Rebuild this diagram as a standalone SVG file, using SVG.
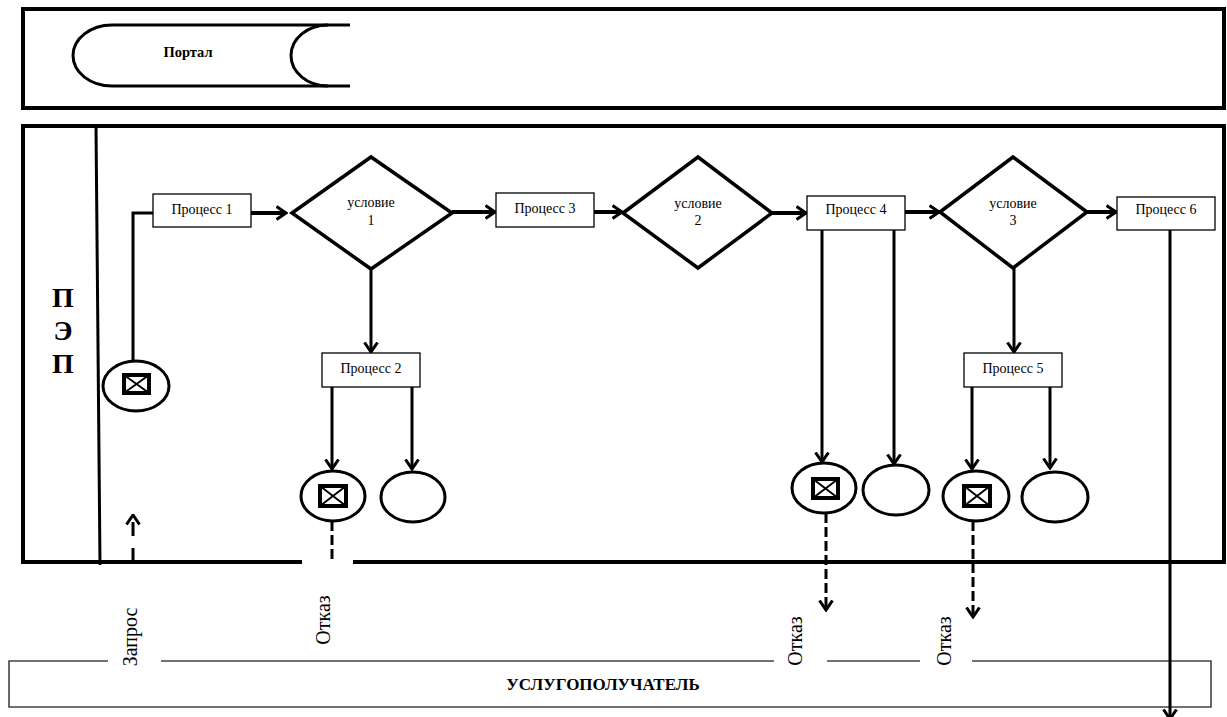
<svg xmlns="http://www.w3.org/2000/svg" width="1227" height="717" viewBox="0 0 1227 717">
<style>
.frame{fill:none;stroke:#000;stroke-width:4}
.box{fill:#fff;stroke:#000;stroke-width:1.3}
.dia{fill:#fff;stroke:#000;stroke-width:3.5;stroke-linejoin:miter}
.ell{fill:#fff;stroke:#000;stroke-width:3}
.sym{fill:#fff;stroke:#000;stroke-width:4}
.symx{stroke:#000;stroke-width:2}
.ln{fill:none;stroke:#000;stroke-width:3}
.lnh{fill:none;stroke:#000;stroke-width:4}
.dash{fill:none;stroke:#000;stroke-width:3;stroke-dasharray:10 4}
.thin{fill:none;stroke:#444;stroke-width:1.6}
.t{font-family:"Liberation Serif","Times New Roman",serif;font-size:14px;fill:#000;text-anchor:middle}
.tb{font-family:"Liberation Serif","Times New Roman",serif;font-weight:bold;fill:#000;text-anchor:middle}
.tr{font-family:"Liberation Serif","Times New Roman",serif;font-size:20px;fill:#000;text-anchor:middle}
</style>
<defs>
<marker id="arr" markerUnits="userSpaceOnUse" viewBox="0 0 12 16" markerWidth="12" markerHeight="16" refX="10.5" refY="8" orient="auto">
<path d="M1,1.5 L10.5,8 L1,14.5" fill="none" stroke="#000" stroke-width="3"/>
</marker>
</defs>

<g id="lane-portal">
<rect class="frame" x="23" y="9" width="1201" height="99"/>
</g>
<g id="portal">
<path class="ln" d="M350,25 L112,25 A39,30.5 0 0 0 112,86 L350,86"/>
<path class="ln" d="M328,25 A37,30.5 0 0 0 328,86"/>
<text class="tb" x="188" y="57" font-size="14.5">Портал</text>
</g>

<g id="lane-pep">
<path class="frame" d="M302,562 L23,562 L23,126 L1224,126 L1224,562 L353,562"/>
<line x1="96" y1="126" x2="100" y2="565" stroke="#000" stroke-width="3"/>
<text class="tb" font-size="28" x="63" y="307">П</text>
<text class="tb" font-size="28" x="63" y="340">Э</text>
<text class="tb" font-size="28" x="63" y="373">П</text>
</g>

<g id="lane-recipient">
<path class="thin" d="M108,661 L9,661 L9,707 L1211,707 L1211,661 L972,661 M920,661 L827,661 M774,661 L161,661"/>
<text class="tb" font-size="17" x="603" y="690">УСЛУГОПОЛУЧАТЕЛЬ</text>
</g>

<g id="connectors">
<path class="ln" d="M133,361 V213 H153"/>
<line class="lnh" x1="251" y1="213" x2="286" y2="213" marker-end="url(#arr)"/>
<line class="lnh" x1="452" y1="212" x2="495" y2="212" marker-end="url(#arr)"/>
<line class="lnh" x1="594" y1="212" x2="622" y2="212" marker-end="url(#arr)"/>
<line class="lnh" x1="772" y1="213" x2="806" y2="213" marker-end="url(#arr)"/>
<line class="lnh" x1="905" y1="212" x2="939" y2="212" marker-end="url(#arr)"/>
<line class="lnh" x1="1087" y1="212" x2="1116" y2="212" marker-end="url(#arr)"/>
<line class="ln" x1="371" y1="269" x2="371" y2="352" marker-end="url(#arr)"/>
<line class="ln" x1="1014" y1="268" x2="1014" y2="352" marker-end="url(#arr)"/>
<line class="ln" x1="332" y1="387" x2="332" y2="469" marker-end="url(#arr)"/>
<line class="ln" x1="412" y1="387" x2="412" y2="469" marker-end="url(#arr)"/>
<line class="ln" x1="822" y1="230" x2="822" y2="462" marker-end="url(#arr)"/>
<line class="ln" x1="894" y1="230" x2="894" y2="464" marker-end="url(#arr)"/>
<line class="ln" x1="972" y1="387" x2="972" y2="469" marker-end="url(#arr)"/>
<line class="ln" x1="1050" y1="387" x2="1050" y2="468" marker-end="url(#arr)"/>
<line class="ln" x1="1170" y1="230" x2="1170" y2="719" marker-end="url(#arr)"/>
<line class="dash" x1="332" y1="521" x2="332" y2="562"/>
<line class="dash" x1="826" y1="513" x2="826" y2="610" marker-end="url(#arr)"/>
<line class="dash" x1="973" y1="521" x2="973" y2="617" marker-end="url(#arr)"/>
<line class="ln" x1="133" y1="562" x2="133" y2="515" stroke-dasharray="14 12" marker-end="url(#arr)"/>
</g>

<g id="start">
<ellipse class="ell" cx="136" cy="386" rx="33" ry="25"/>
<rect class="sym" x="124" y="375" width="25" height="18"/>
<path class="symx" d="M124,375 L149,393 M149,375 L124,393"/>
</g>

<g id="proc1"><rect class="box" x="153" y="194" width="98" height="33"/><text class="t" x="202" y="214">Процесс 1</text></g>
<g id="cond1"><polygon class="dia" points="292,213 371,157 452,213 371,269"/><text class="t" x="371" y="207">условие</text><text class="t" x="371" y="225">1</text></g>
<g id="proc2"><rect class="box" x="322" y="353" width="98" height="34"/><text class="t" x="371" y="373">Процесс 2</text></g>
<g id="proc3"><rect class="box" x="496" y="193" width="98" height="34"/><text class="t" x="545" y="213">Процесс 3</text></g>
<g id="cond2"><polygon class="dia" points="623,213 698,157 772,213 698,268"/><text class="t" x="698" y="208">условие</text><text class="t" x="698" y="225">2</text></g>
<g id="proc4"><rect class="box" x="807" y="196" width="98" height="34"/><text class="t" x="856" y="214">Процесс 4</text></g>
<g id="cond3"><polygon class="dia" points="940,212 1013,157 1087,212 1013,268"/><text class="t" x="1013" y="208">условие</text><text class="t" x="1013" y="225">3</text></g>
<g id="proc5"><rect class="box" x="964" y="353" width="98" height="34"/><text class="t" x="1013" y="373">Процесс 5</text></g>
<g id="proc6"><rect class="box" x="1117" y="197" width="98" height="33"/><text class="t" x="1166" y="214">Процесс 6</text></g>

<g id="reject2">
<ellipse class="ell" cx="333" cy="496" rx="32" ry="25"/>
<rect class="sym" x="320" y="486" width="26" height="20"/>
<path class="symx" d="M320,486 L346,506 M346,486 L320,506"/>
</g>
<g id="end2"><ellipse class="ell" cx="413" cy="497" rx="32" ry="25"/></g>
<g id="reject4">
<ellipse class="ell" cx="824" cy="488" rx="32" ry="25"/>
<rect class="sym" x="813" y="479" width="25" height="19"/>
<path class="symx" d="M813,479 L838,498 M838,479 L813,498"/>
</g>
<g id="end4"><ellipse class="ell" cx="896" cy="490" rx="33" ry="25"/></g>
<g id="reject5">
<ellipse class="ell" cx="976" cy="496" rx="33" ry="25"/>
<rect class="sym" x="964" y="486" width="26" height="20"/>
<path class="symx" d="M964,486 L990,506 M990,486 L964,506"/>
</g>
<g id="end5"><ellipse class="ell" cx="1055" cy="497" rx="33" ry="25"/></g>

<g id="labels">
<text class="tr" transform="translate(137,637) rotate(-90)">Запрос</text>
<text class="tr" transform="translate(330,620) rotate(-90)">Отказ</text>
<text class="tr" transform="translate(802,641) rotate(-90)">Отказ</text>
<text class="tr" transform="translate(951,641) rotate(-90)">Отказ</text>
</g>
</svg>
